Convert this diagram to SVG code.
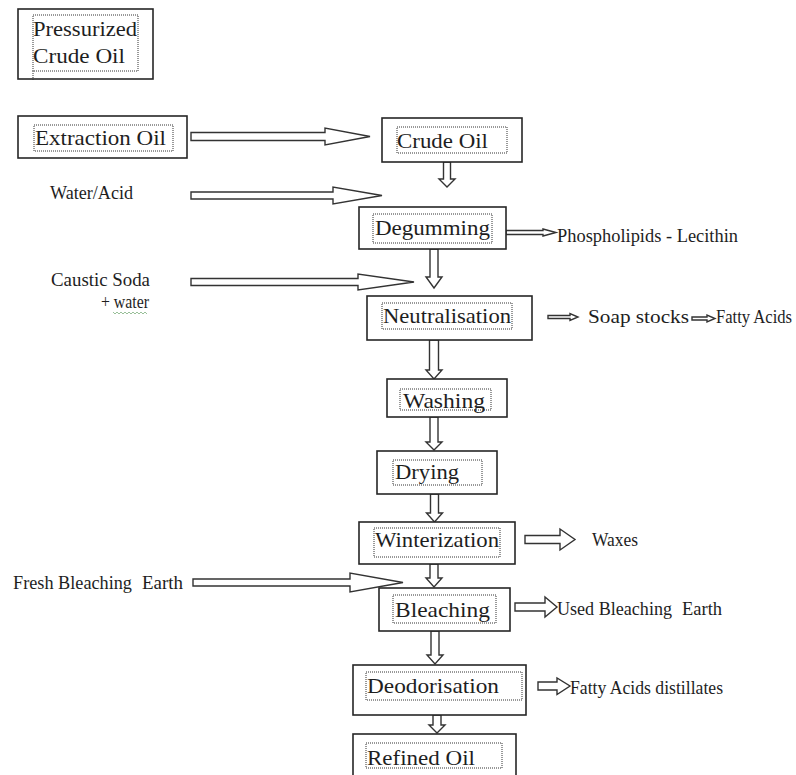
<svg xmlns="http://www.w3.org/2000/svg" width="796" height="775" viewBox="0 0 796 775">
  <style>
    .box { fill: #ffffff; stroke: #262626; stroke-width: 1.6; }
    .dot { fill: none; stroke: #333333; stroke-width: 1; stroke-dasharray: 1 1; }
    .arr { fill: #ffffff; stroke: #333333; stroke-width: 1.4; stroke-linejoin: miter; }
    .t { font-family: "Liberation Serif", "Times New Roman", serif; font-size: 22px; fill: #1e1e1e; }
    .s { font-family: "Liberation Serif", "Times New Roman", serif; font-size: 18px; fill: #1e1e1e; }
  </style>

  <rect width="796" height="775" fill="#ffffff"/>

  <!-- connectors: outlined block arrows -->
  <g id="connectors">
    <!-- horizontal feed arrows -->
    <path class="arr" d="M191 132.5 H325 V128 L370 136.5 L325 145 V140.5 H191 Z"/>
    <path class="arr" d="M191 192 H333 V187 L382 195.5 L333 204 V199 H191 Z"/>
    <path class="arr" d="M191 278.5 H358 V274 L414 282 L358 290 V285.5 H191 Z"/>
    <path class="arr" d="M193 579 H350 V573 L403 582.5 L350 592 V586 H193 Z"/>

    <!-- by-product arrows -->
    <path class="arr" d="M506 230.5 H543 V229 L556 232.5 L543 236 V234.5 H506 Z"/>
    <path class="arr" d="M548 315.5 H570 V313.5 L578 317 L570 320.5 V318.5 H548 Z"/>
    <path class="arr" d="M692 317 H707 V315 L715 318.5 L707 322 V320 H692 Z"/>
    <path class="arr" d="M525 535.5 H560 V529 L575 539.5 L560 550 V543.5 H525 Z"/>
    <path class="arr" d="M515 603 H545 V597 L557 607 L545 617 V611 H515 Z"/>
    <path class="arr" d="M538 682 H557 V678 L570 686 L557 694.5 V690 H538 Z"/>

    <!-- main line down arrows -->
    <path class="arr" d="M443.5 162 V179 H439 L447 187 L455 179 H450.5 V162 Z"/>
    <path class="arr" d="M430 249 V277 H426 L434 288 L442 277 H438 V249 Z"/>
    <path class="arr" d="M429.5 340 V370 H426 L434 379 L442 370 H438.5 V340 Z"/>
    <path class="arr" d="M430 417 V442 H426 L434 450 L442 442 H438 V417 Z"/>
    <path class="arr" d="M430.5 494 V513 H426.5 L434.5 522 L442.5 513 H438.5 V494 Z"/>
    <path class="arr" d="M430 564 V578 H426 L434 587 L442 578 H438 V564 Z"/>
    <path class="arr" d="M431 631 V655 H427 L435 664 L443 655 H439 V631 Z"/>
    <path class="arr" d="M433 715 V725 H429 L437 733 L445 725 H441 V715 Z"/>
  </g>

  <!-- process nodes -->
  <g id="pressurized-crude-oil">
    <rect class="box" x="18" y="9" width="135" height="70"/>
    <rect class="dot" x="33" y="15" width="105" height="56"/>
    <line class="dot" x1="33" y1="71" x2="33" y2="80"/>
    <text class="t" x="33" y="36" textLength="104" lengthAdjust="spacingAndGlyphs">Pressurized</text>
    <text class="t" x="33" y="63" textLength="92" lengthAdjust="spacingAndGlyphs">Crude Oil</text>
  </g>

  <g id="extraction-oil">
    <rect class="box" x="18" y="116" width="169" height="42"/>
    <rect class="dot" x="34" y="125" width="139" height="26"/>
    <text class="t" x="35" y="145" textLength="131" lengthAdjust="spacingAndGlyphs">Extraction Oil</text>
  </g>

  <g id="crude-oil">
    <rect class="box" x="382" y="118" width="140" height="44"/>
    <rect class="dot" x="397" y="127" width="110" height="26"/>
    <text class="t" x="397" y="148" textLength="91" lengthAdjust="spacingAndGlyphs">Crude Oil</text>
  </g>

  <g id="water-acid">
    <text class="s" x="50" y="199" textLength="83" lengthAdjust="spacingAndGlyphs">Water/Acid</text>
  </g>

  <g id="degumming">
    <rect class="box" x="359" y="207" width="147" height="42"/>
    <rect class="dot" x="373" y="214" width="119" height="29"/>
    <text class="t" x="375" y="235" textLength="115" lengthAdjust="spacingAndGlyphs">Degumming</text>
  </g>

  <g id="phospholipids">
    <text class="s" x="557" y="242" font-size="19" textLength="181" lengthAdjust="spacingAndGlyphs">Phospholipids - Lecithin</text>
  </g>

  <g id="caustic-soda">
    <text class="s" x="51" y="286" textLength="99" lengthAdjust="spacingAndGlyphs">Caustic Soda</text>
    <text class="s" x="101" y="308" textLength="48" lengthAdjust="spacingAndGlyphs">+ water</text>
    <path d="M113 312 l2 2 l2 -2 l2 2 l2 -2 l2 2 l2 -2 l2 2 l2 -2 l2 2 l2 -2 l2 2 l2 -2 l2 2 l2 -2 l2 2 l2 -2 l2 2" fill="none" stroke="#7fb07f" stroke-width="0.8"/>
  </g>

  <g id="neutralisation">
    <rect class="box" x="367" y="296" width="165" height="44"/>
    <rect class="dot" x="382" y="303" width="130" height="26"/>
    <text class="t" x="383" y="323" textLength="128" lengthAdjust="spacingAndGlyphs">Neutralisation</text>
  </g>

  <g id="soap-stocks">
    <text class="s" x="588" y="323" textLength="101" lengthAdjust="spacingAndGlyphs">Soap stocks</text>
  </g>

  <g id="fatty-acids">
    <text class="s" x="716" y="323" font-size="16.5" textLength="76" lengthAdjust="spacingAndGlyphs">Fatty Acids</text>
  </g>

  <g id="washing">
    <rect class="box" x="387" y="379" width="120" height="38"/>
    <rect class="dot" x="400" y="389" width="91" height="21"/>
    <text class="t" x="403" y="408" textLength="82" lengthAdjust="spacingAndGlyphs">Washing</text>
  </g>

  <g id="drying">
    <rect class="box" x="377" y="451" width="120" height="43"/>
    <rect class="dot" x="393" y="460" width="89" height="25"/>
    <text class="t" x="395" y="479" textLength="64" lengthAdjust="spacingAndGlyphs">Drying</text>
  </g>

  <g id="winterization">
    <rect class="box" x="359" y="522" width="156" height="42"/>
    <rect class="dot" x="374" y="528" width="126" height="29"/>
    <text class="t" x="375" y="547" textLength="124" lengthAdjust="spacingAndGlyphs">Winterization</text>
  </g>

  <g id="waxes">
    <text class="s" x="592" y="546" font-size="17" textLength="46" lengthAdjust="spacingAndGlyphs">Waxes</text>
  </g>

  <g id="fresh-bleaching-earth">
    <text class="s" x="13" y="589" textLength="119" lengthAdjust="spacingAndGlyphs">Fresh Bleaching</text>
    <text class="s" x="142" y="589" textLength="41" lengthAdjust="spacingAndGlyphs">Earth</text>
  </g>

  <g id="bleaching">
    <rect class="box" x="379" y="588" width="131" height="43"/>
    <rect class="dot" x="393" y="595" width="103" height="28"/>
    <text class="t" x="395" y="617" textLength="95" lengthAdjust="spacingAndGlyphs">Bleaching</text>
  </g>

  <g id="used-bleaching-earth">
    <text class="s" x="557" y="615" textLength="115" lengthAdjust="spacingAndGlyphs">Used Bleaching</text>
    <text class="s" x="682" y="615" textLength="40" lengthAdjust="spacingAndGlyphs">Earth</text>
  </g>

  <g id="deodorisation">
    <rect class="box" x="353" y="665" width="173" height="50"/>
    <rect class="dot" x="366" y="672" width="156" height="28"/>
    <text class="t" x="367" y="693" textLength="132" lengthAdjust="spacingAndGlyphs">Deodorisation</text>
  </g>

  <g id="fatty-acids-distillates">
    <text class="s" x="570" y="694" textLength="153" lengthAdjust="spacingAndGlyphs">Fatty Acids distillates</text>
  </g>

  <g id="refined-oil">
    <rect class="box" x="353" y="734" width="163" height="46"/>
    <rect class="dot" x="366" y="743" width="136" height="25"/>
    <text class="t" x="367" y="765" textLength="108" lengthAdjust="spacingAndGlyphs">Refined Oil</text>
  </g>
</svg>
